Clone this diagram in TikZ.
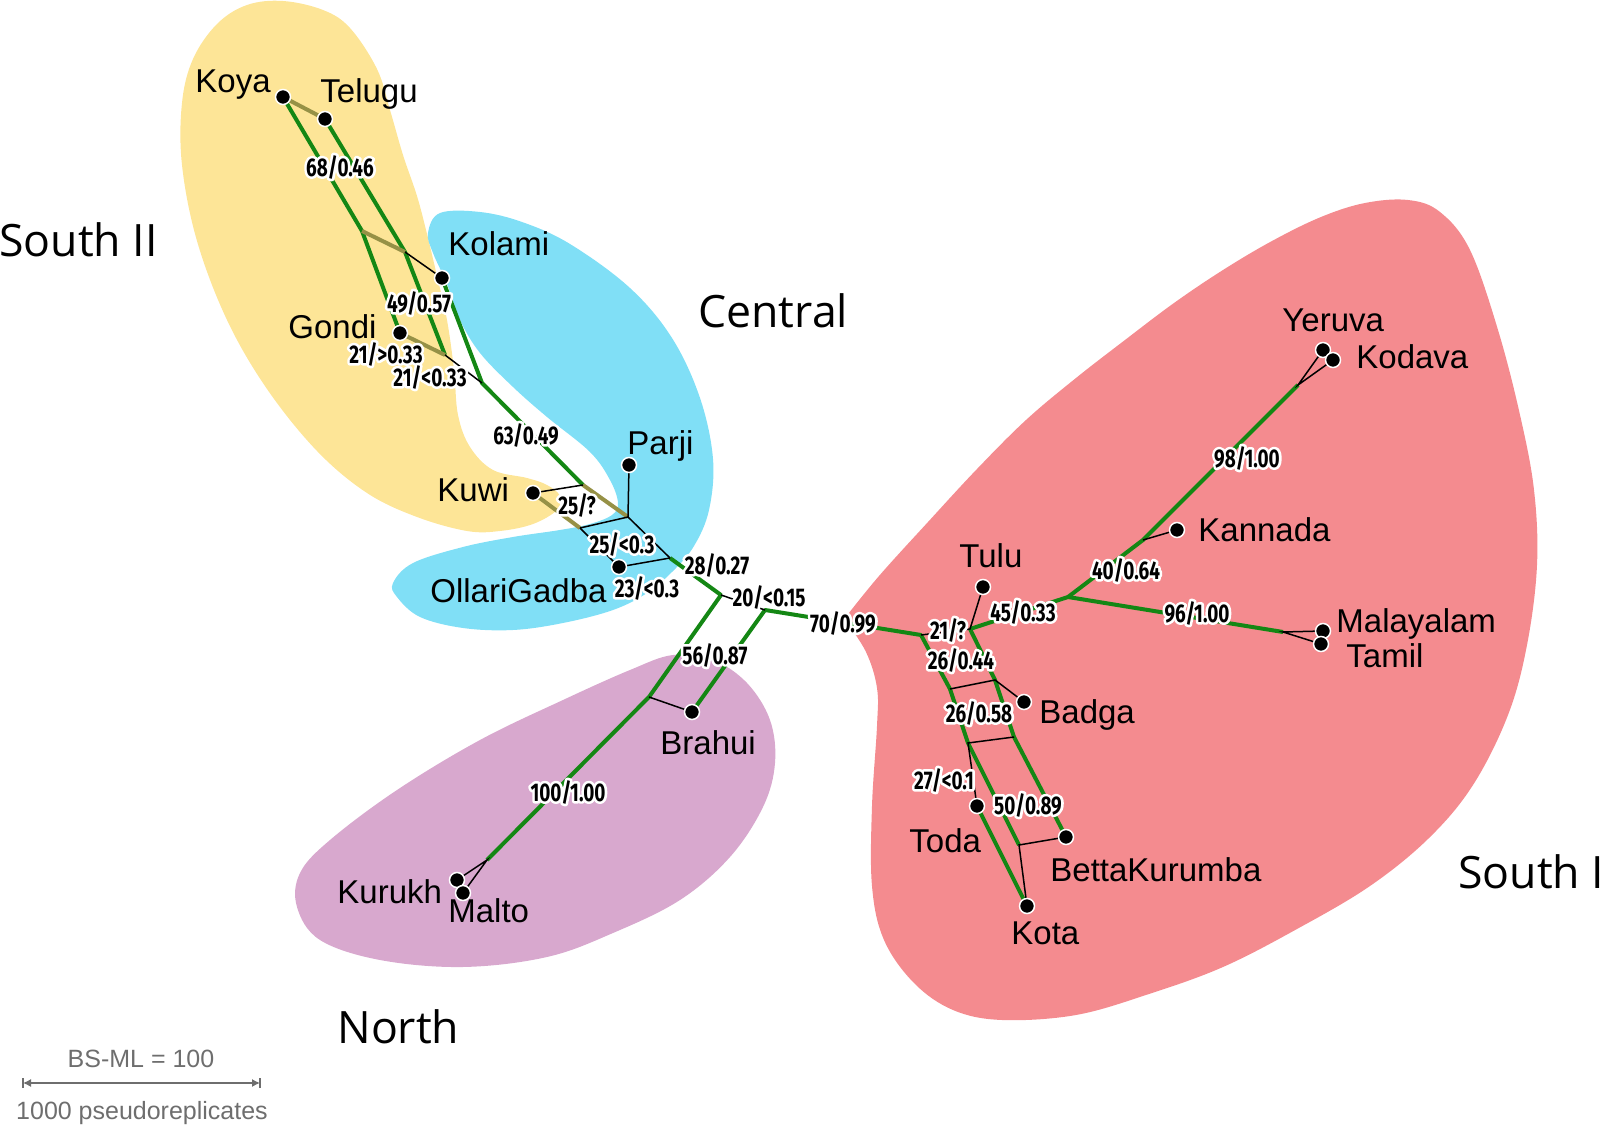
\documentclass[tikz,border=0pt]{standalone}
\usepackage{fontspec}
\setmainfont{Liberation Sans}
\newfontfamily\regfont{Open Sans}
\newfontfamily\bsfont{Fira Sans}[FakeStretch=0.74]
\usetikzlibrary{arrows.meta}
\pgfdeclarelayer{bg}
\pgfdeclarelayer{edges}
\pgfsetlayers{bg,edges,main}
\definecolor{yel}{RGB}{253,229,151}
\definecolor{cya}{RGB}{128,223,246}
\definecolor{pur}{RGB}{216,168,206}
\definecolor{ros}{RGB}{244,139,143}
\definecolor{grn}{RGB}{20,135,20}
\definecolor{oli}{RGB}{150,145,70}
\definecolor{gry}{RGB}{110,110,110}
\newcommand\halo[1]{\leavevmode\rlap{\special{pdf:code 1 Tr 1 1 1 RG 2.6 w 1 j}#1\special{pdf:code 0 Tr}}#1}
\begin{document}
\begin{tikzpicture}[x=0.5pt,y=-0.5pt,
 gl/.style={draw=grn, line width=2pt, line join=round},
 ol/.style={draw=oli, line width=2pt},
 bl/.style={draw=black, line width=0.75pt},
 dot/.style={circle, fill=black, draw=white, line width=0.75pt, inner sep=0pt, minimum size=7.5pt},
 tx/.style={anchor=base west, inner sep=0pt, font=\fontsize{16.5}{19}\selectfont},
 bs/.style={inner sep=0pt, font=\bsfont\bfseries\fontsize{12.8}{14}\selectfont},
 rg/.style={anchor=base west, inner sep=0pt, font=\regfont\fontsize{22.3}{26}\selectfont},
 sb/.style={inner sep=0pt, anchor=base, text=gry, font=\fontsize{12.5}{14}\selectfont}]
\useasboundingbox (0,0) rectangle (1600,1127);

% ---------- blobs ----------
\begin{pgfonlayer}{bg}
\fill[yel] plot[smooth cycle, tension=0.6] coordinates {(283,1) (323,10) (350,28) (377,69) (390,110) (403,155) (417,196) (427,234) (437,276) (447,320) (454,370) (458,415) (470,447) (493,470) (527,478) (547,485) (560,496) (557,510) (533,524) (500,531) (467,531) (417,517) (367,493) (317,451) (267,389) (227,320) (197,241) (182,165) (182,103) (193,59) (217,24) (247,5)};
\fill[cya] plot[smooth cycle, tension=0.6] coordinates {(440,213) (480,212) (522,222) (570,244) (630,288) (672,338) (700,398) (713,459) (709,510) (694,546) (673,571) (647,593) (613,610) (563,623) (513,630) (463,628) (420,617) (397,597) (393,583) (413,563) (463,547) (513,537) (560,530) (590,524) (612,515) (618,503) (610,480) (590,452) (547,417) (513,387) (480,353) (460,320) (447,284) (433,253) (428,233)};
\fill[pur] plot[smooth cycle, tension=0.6] coordinates {(673,655) (713,660) (747,683) (770,720) (775,763) (763,807) (730,857) (680,900) (613,933) (547,957) (463,967) (380,960) (320,940) (297,907) (300,873) (330,840) (397,790) (480,740) (563,700) (630,670)};
\fill[ros] plot[smooth, tension=0.6] coordinates {(845,618) (879,576) (928,522) (977,469) (1026,420) (1076,378) (1125,340) (1174,303) (1223,270) (1272,241) (1321,217) (1365,203) (1408,200) (1440,212) (1470,250) (1498,330) (1520,415) (1534,490) (1537,565) (1527,645) (1508,715) (1473,785) (1429,838) (1370,886) (1297,929) (1223,967) (1149,994) (1076,1015) (1002,1020) (953,1010) (914,983) (884,940) (872,886) (872,806) (877,726) (877,688) (866,652) (845,620)} -- cycle;
\end{pgfonlayer}

% ---------- internal points ----------
\coordinate (a1) at (362,231);
\coordinate (a2) at (405,252);
\coordinate (a3) at (445,355);
\coordinate (a4) at (482,383);
\coordinate (a5) at (583,485);
\coordinate (a6) at (628,517);
\coordinate (a7) at (580,528);
\coordinate (a8) at (670,558);
\coordinate (a9) at (721,595);
\coordinate (b1) at (649,697);
\coordinate (b2) at (487,860);
\coordinate (c1) at (765,610);
\coordinate (d1) at (921,635);
\coordinate (d2) at (970,629);
\coordinate (e1) at (1068,597);
\coordinate (e2) at (1143,540);
\coordinate (e3) at (1298,385);
\coordinate (e4) at (1283,632);
\coordinate (f1) at (950,689);
\coordinate (f2) at (968,743);
\coordinate (f3) at (1019,845);
\coordinate (g1) at (995,680);
\coordinate (g2) at (1014,737);

% ---------- taxa dots ----------
\node[dot] (Koya) at (283,97) {};
\node[dot] (Telugu) at (325,119) {};
\node[dot] (Kolami) at (442,278) {};
\node[dot] (Gondi) at (400,333) {};
\node[dot] (Kuwi) at (533,493) {};
\node[dot] (Parji) at (629,465) {};
\node[dot] (Ollari) at (619,567) {};
\node[dot] (Brahui) at (692,712) {};
\node[dot] (Kurukh) at (457,880) {};
\node[dot] (Malto) at (463,893) {};
\node[dot] (Tulu) at (983,587) {};
\node[dot] (Badga) at (1024,702) {};
\node[dot] (Toda) at (977,806) {};
\node[dot] (Betta) at (1066,837) {};
\node[dot] (Kota) at (1027,906) {};
\node[dot] (Kannada) at (1177,530) {};
\node[dot] (Yeruva) at (1323,350) {};
\node[dot] (Kodava) at (1333,360) {};
\node[dot] (Malayalam) at (1323,631) {};
\node[dot] (Tamil) at (1321,644) {};

% ---------- edges ----------
\begin{pgfonlayer}{edges}
% green
\draw[gl] (Koya.center) -- (a1) -- (Gondi.center);
\draw[gl] (Telugu.center) -- (a2) -- (a3);
\draw[gl] (Kolami.center) -- (a4) -- (a5);
\draw[gl] (a8) -- (a9) -- (b1) -- (b2);
\draw[gl] (Brahui.center) -- (c1) -- (d1) -- (f1) -- (f2) -- (f3);
\draw[gl] (d2) -- (g1) -- (g2) -- (Betta.center);
\draw[gl] (Toda.center) -- (Kota.center);
\draw[gl] (d2) -- (e1) -- (e2) -- (e3);
\draw[gl] (e1) -- (e4);
% olive
\draw[ol] (Koya.center) -- (Telugu.center);
\draw[ol] (a1) -- (a2);
\draw[ol] (Gondi.center) -- (a3);
\draw[ol] (a5) -- (a6);
\draw[ol] (Kuwi.center) -- (a7);
% black
\draw[bl] (a2) -- (Kolami.center);
\draw[bl] (a3) -- (a4);
\draw[bl] (Kuwi.center) -- (a5);
\draw[bl] (Parji.center) -- (a6);
\draw[bl] (a7) -- (a6) -- (a8);
\draw[bl] (a7) -- (Ollari.center) -- (a8);
\draw[bl] (a9) -- (c1);
\draw[bl] (b1) -- (Brahui.center);
\draw[bl] (Kurukh.center) -- (b2) -- (Malto.center);
\draw[bl] (d1) -- (d2) -- (Tulu.center);
\draw[bl] (f1) -- (g1) -- (Badga.center);
\draw[bl] (Toda.center) -- (f2) -- (g2);
\draw[bl] (Kota.center) -- (f3) -- (Betta.center);
\draw[bl] (e2) -- (Kannada.center);
\draw[bl] (Yeruva.center) -- (e3) -- (Kodava.center);
\draw[bl] (Malayalam.center) -- (e4) -- (Tamil.center);
\end{pgfonlayer}

% ---------- support labels ----------
\node[bs] (l1) at (340,167) {\halo{68/0.46}};
\node[bs] (l2) at (419,303) {\halo{49/0.57}};
\node[bs] (l3) at (386,354) {\halo{21/>0.33}};
\node[bs] (l4) at (430,377) {\halo{21/<0.33}};
\node[bs] (l5) at (526,435) {\halo{63/0.49}};
\node[bs] (l6) at (577,505) {\halo{25/?}};
\node[bs] (l7) at (622,544) {\halo{25/<0.3}};
\node[bs] (l8) at (647,588) {\halo{23/<0.3}};
\node[bs] (l9) at (717,565) {\halo{28/0.27}};
\node[bs] (l10) at (769,597) {\halo{20/<0.15}};
\node[bs] (l11) at (843,623) {\halo{70/0.99}};
\node[bs] (l12) at (715,655) {\halo{56/0.87}};
\node[bs] (l13) at (568,792) {\halo{100/1.00}};
\node[bs] (l14) at (948,630) {\halo{21/?}};
\node[bs] (l15) at (1023,612) {\halo{45/0.33}};
\node[bs] (l16) at (961,660) {\halo{26/0.44}};
\node[bs] (l17) at (979,713) {\halo{26/0.58}};
\node[bs] (l18) at (944,780) {\halo{27/<0.1}};
\node[bs] (l19) at (1028,805) {\halo{50/0.89}};
\node[bs] (l20) at (1126,570) {\halo{40/0.64}};
\node[bs] (l21) at (1247,458) {\halo{98/1.00}};
\node[bs] (l22) at (1197,613) {\halo{96/1.00}};

% ---------- taxa names ----------
\node[tx] (tKoya) at (195,93) {Koya};
\node[tx] (tTelugu) at (320,103) {Telugu};
\node[tx] (tKolami) at (448,256) {Kolami};
\node[tx] (tGondi) at (288,339) {Gondi};
\node[tx] (tParji) at (627,455) {Parji};
\node[tx] (tKuwi) at (437,502) {Kuwi};
\node[tx] (tOllari) at (430,603) {OllariGadba};
\node[tx] (tBrahui) at (660,754) {Brahui};
\node[tx] (tKurukh) at (337,903) {Kurukh};
\node[tx] (tMalto) at (448,922) {Malto};
\node[tx] (tTulu) at (959,568) {Tulu};
\node[tx] (tBadga) at (1039,723) {Badga};
\node[tx] (tToda) at (909,852) {Toda};
\node[tx] (tBetta) at (1050,881) {BettaKurumba};
\node[tx] (tKota) at (1011,944) {Kota};
\node[tx] (tYeruva) at (1282,332) {Yeruva};
\node[tx] (tKodava) at (1356,369) {Kodava};
\node[tx] (tKannada) at (1198,542) {Kannada};
\node[tx] (tMalayalam) at (1336,633) {Malayalam};
\node[tx] (tTamil) at (1346,668) {Tamil};

% ---------- group names ----------
\node[rg] (gS2) at (-1,257) {South II};
\node[rg] (gC) at (698,328) {Central};
\node[rg] (gN) at (337,1043) {North};
\node[rg] (gS1) at (1458,888) {South I};

% ---------- scale bar ----------
\node[sb] (sbt) at (141,1067) {BS-ML = 100};
\node[sb] (sbb) at (142,1119) {1000 pseudoreplicates};
\coordinate (sbl) at (23,1083);
\coordinate (sbr) at (260,1083);
\draw[gry, line width=0.6pt, {Latex[length=4pt,width=4pt]}-{Latex[length=4pt,width=4pt]}] (sbl) -- (sbr);
\draw[gry, line width=0.9pt] ([yshift=-2.5pt]sbl) -- ([yshift=2.5pt]sbl);
\draw[gry, line width=0.9pt] ([yshift=-2.5pt]sbr) -- ([yshift=2.5pt]sbr);
\end{tikzpicture}
\end{document}
